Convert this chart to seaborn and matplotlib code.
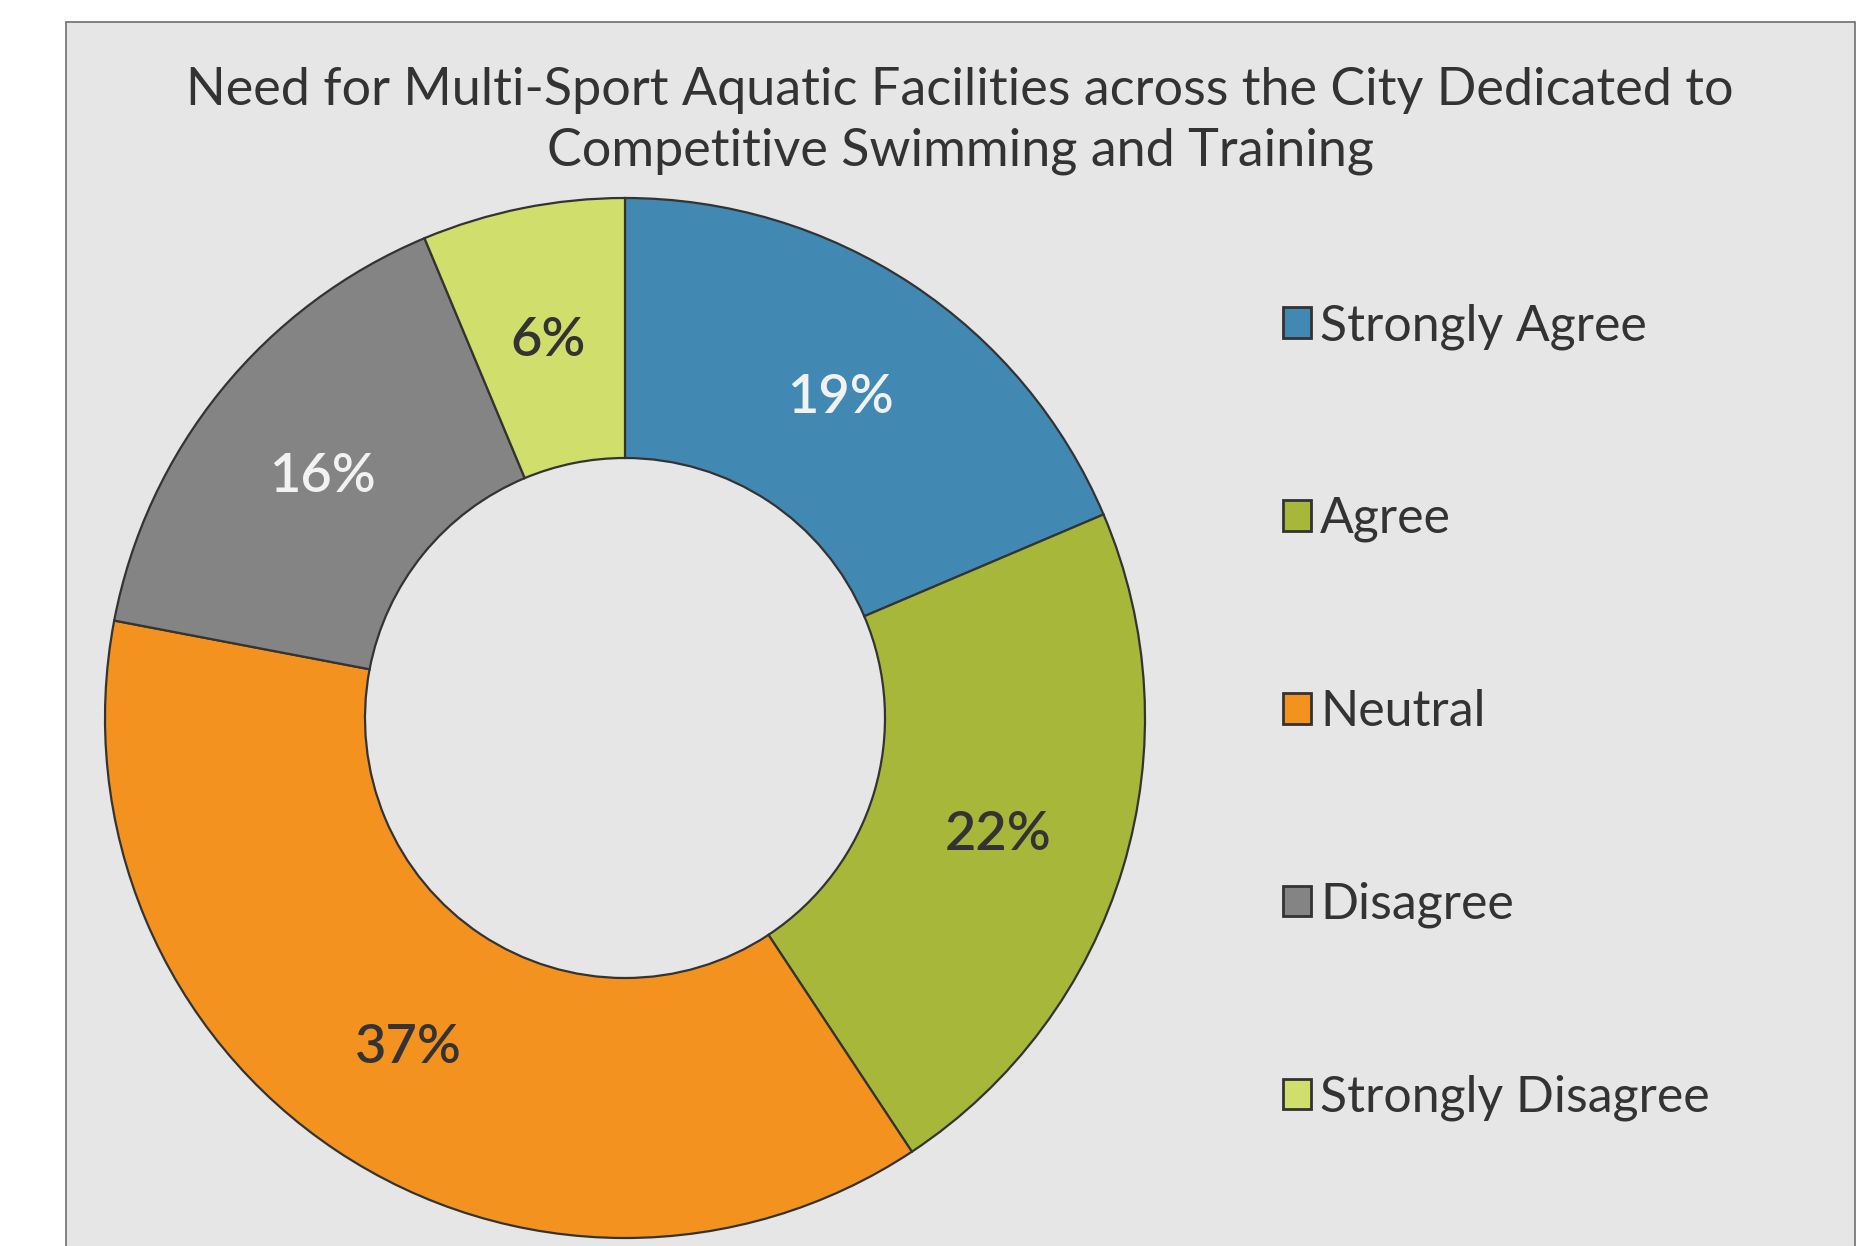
#!/usr/bin/env python3
"""Donut chart: need for multi-sport aquatic facilities (survey responses)."""

import matplotlib
matplotlib.use("Agg")
import matplotlib.pyplot as plt
from matplotlib.patches import Rectangle, Patch
import seaborn as sns

# survey data (shares, labels as printed)
categories = ["Strongly Agree", "Agree", "Neutral", "Disagree", "Strongly Disagree"]
shares = [18.6, 22.1, 37.3, 15.7, 6.3]
pct_labels = ["19%", "22%", "37%", "16%", "6%"]
colors = ["#4189B3", "#A7B73A", "#F4921F", "#848484", "#D0DE6C"]
label_colors = ["#F2F2F2", "#333333", "#333333", "#F2F2F2", "#333333"]

TITLE = ("Need for Multi-Sport Aquatic Facilities across the City Dedicated to\n"
         "Competitive Swimming and Training")

W, H = 1870, 1246
BG = "#E6E6E6"
INK = "#333333"

sns.set_theme(style="white")
plt.rcParams["font.family"] = ["Lato", "DejaVu Sans"]

fig = plt.figure(figsize=(W / 100, H / 100), dpi=100, facecolor="white")

# grey panel, runs off the bottom of the image
fig.patches.append(Rectangle((66 / W, -0.05), (1855 - 66) / W, 1.05 - 22 / H,
                             transform=fig.transFigure, facecolor=BG,
                             edgecolor="#6E6E6E", linewidth=1.2, zorder=-10))

# donut: centre (625, 718) px, outer radius 520 px
cx, cy, r = 625, 718, 520
ax = fig.add_axes([(cx - r) / W, (H - cy - r) / H, 2 * r / W, 2 * r / H])
ax.set_facecolor("none")
ax.set_zorder(5)

wedges, _, autotexts = ax.pie(
    shares,
    colors=colors,
    startangle=90,
    counterclock=False,
    radius=1.0,
    autopct="%.0f%%",
    pctdistance=0.75,
    wedgeprops=dict(width=0.5, edgecolor=INK, linewidth=1.6),
)
for t, lab, c in zip(autotexts, pct_labels, label_colors):
    t.set_text(lab)
    t.set_color(c)
    t.set_fontsize(39)
    t.set_fontweight("semibold")
    t.set_verticalalignment("center_baseline")

ax.set_xlim(-1.0, 1.0)
ax.set_ylim(-1.0, 1.0)
ax.set_aspect("equal")
ax.axis("off")

fig.text(960 / W, 1 - 121 / H, TITLE, ha="center", va="center", fontsize=37.5,
         color=INK, linespacing=1.36)

handles = [Patch(facecolor=c, edgecolor=INK, linewidth=2) for c in colors]
fig.legend(handles, categories, loc="center left",
           bbox_to_anchor=(1283 / W, 1 - 712 / H), frameon=False,
           fontsize=36, labelcolor=INK, handlelength=0.56, handleheight=0.56,
           handletextpad=0.18, labelspacing=2.93, borderpad=0, borderaxespad=0)

fig.savefig("out.png", dpi=100, facecolor="white")
